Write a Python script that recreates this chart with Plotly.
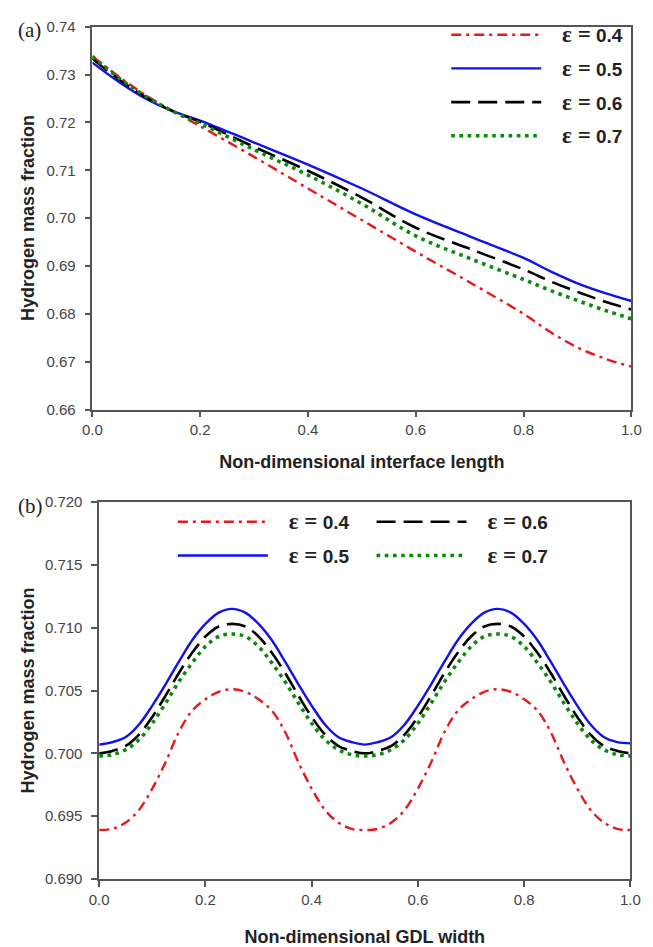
import plotly.graph_objects as go

# ---------------- data: panel (a) ----------------
x_a = [0.0, 0.05, 0.1, 0.15, 0.2, 0.3, 0.4, 0.5, 0.6, 0.7, 0.8, 0.85, 0.9, 0.95, 1.0]
a_eps04 = [0.7338, 0.7295, 0.7256, 0.7223, 0.7192, 0.7128, 0.7062, 0.6996, 0.6930, 0.6866, 0.6800, 0.6762, 0.6730, 0.6707, 0.6690]
a_eps05 = [0.7325, 0.7284, 0.7249, 0.7223, 0.7204, 0.7158, 0.7112, 0.7062, 0.7008, 0.6962, 0.6917, 0.6889, 0.6864, 0.6844, 0.6827]
a_eps06 = [0.7333, 0.7289, 0.7252, 0.7223, 0.7201, 0.7149, 0.7099, 0.7043, 0.6980, 0.6936, 0.6893, 0.6868, 0.6846, 0.6826, 0.6809]
a_eps07 = [0.7338, 0.7292, 0.7254, 0.7223, 0.7198, 0.7143, 0.7090, 0.7030, 0.6963, 0.6916, 0.6872, 0.6849, 0.6828, 0.6808, 0.6790]

# ---------------- data: panel (b) ----------------
x_b = [0.0, 0.025, 0.05, 0.075, 0.1, 0.125, 0.15, 0.175, 0.2, 0.225, 0.25, 0.275, 0.3, 0.325, 0.35,
       0.375, 0.4, 0.425, 0.45, 0.475, 0.5, 0.525, 0.55, 0.575, 0.6, 0.625, 0.65, 0.675, 0.7, 0.725,
       0.75, 0.775, 0.8, 0.825, 0.85, 0.875, 0.9, 0.925, 0.95, 0.975, 1.0]
b_eps04 = [0.6939, 0.6940, 0.6945, 0.6955, 0.6972, 0.6993, 0.7017, 0.7034, 0.7043, 0.7049, 0.7051, 0.7049, 0.7043, 0.7034, 0.7017, 0.6993, 0.6972, 0.6955, 0.6945, 0.6940, 0.6939, 0.6940, 0.6945, 0.6955, 0.6972, 0.6993, 0.7017, 0.7034, 0.7043, 0.7049, 0.7051, 0.7049, 0.7043, 0.7034, 0.7017, 0.6993, 0.6972, 0.6955, 0.6945, 0.6940, 0.6939]
b_eps05 = [0.7007, 0.7009, 0.7013, 0.7023, 0.7038, 0.7055, 0.7073, 0.7090, 0.7103, 0.7112, 0.7115, 0.7112, 0.7103, 0.7090, 0.7073, 0.7055, 0.7038, 0.7023, 0.7013, 0.7009, 0.7007, 0.7009, 0.7013, 0.7023, 0.7038, 0.7055, 0.7073, 0.7090, 0.7103, 0.7112, 0.7115, 0.7112, 0.7103, 0.7090, 0.7073, 0.7055, 0.7038, 0.7023, 0.7013, 0.7009, 0.7008]
b_eps06 = [0.7000, 0.7002, 0.7006, 0.7015, 0.7029, 0.7046, 0.7064, 0.7080, 0.7093, 0.7101, 0.7103, 0.7101, 0.7093, 0.7080, 0.7064, 0.7046, 0.7029, 0.7015, 0.7006, 0.7002, 0.7000, 0.7002, 0.7006, 0.7015, 0.7029, 0.7046, 0.7064, 0.7080, 0.7093, 0.7101, 0.7103, 0.7101, 0.7093, 0.7080, 0.7064, 0.7046, 0.7029, 0.7015, 0.7006, 0.7002, 0.7000]
b_eps07 = [0.6998, 0.6999, 0.7003, 0.7011, 0.7024, 0.7040, 0.7057, 0.7072, 0.7085, 0.7093, 0.7095, 0.7093, 0.7085, 0.7072, 0.7057, 0.7040, 0.7024, 0.7011, 0.7003, 0.6999, 0.6998, 0.6999, 0.7003, 0.7011, 0.7024, 0.7040, 0.7057, 0.7072, 0.7085, 0.7093, 0.7095, 0.7093, 0.7085, 0.7072, 0.7057, 0.7040, 0.7024, 0.7011, 0.7003, 0.6999, 0.6998]

series_names = ["0.4", "0.5", "0.6", "0.7"]
y_ticks_a = [0.66, 0.67, 0.68, 0.69, 0.70, 0.71, 0.72, 0.73, 0.74]
y_ticks_b = [0.690, 0.695, 0.700, 0.705, 0.710, 0.715, 0.720]
x_ticks = [0.0, 0.2, 0.4, 0.6, 0.8, 1.0]
y_title = "Hydrogen mass fraction"

styles = {
    "0.4": dict(color="#e8191b", width=2.4, dash="10px,5px,3px,5px"),
    "0.5": dict(color="#1010f0", width=2.4, dash="solid"),
    "0.6": dict(color="#000000", width=2.6, dash="19px,8px"),
    "0.7": dict(color="#0a8a0a", width=3.6, dash="3.6px,4.6px"),
}

GAP = "\u00a0\u00a0\u00a0"

def label(n):
    return (GAP + "<span style='font-family:Liberation Serif;font-size:23px'><b>ε =</b></span>"
            + "<b> " + n + "</b>")

fig = go.Figure()
a_vals = [a_eps04, a_eps05, a_eps06, a_eps07]
b_vals = [b_eps04, b_eps05, b_eps06, b_eps07]
for n, ys in zip(series_names, a_vals):
    fig.add_trace(go.Scatter(x=x_a, y=ys, mode="lines", line=dict(shape="spline", **styles[n]),
                             name=label(n), legend="legend", legendgroup="a" + n,
                             xaxis="x", yaxis="y"))
for n, ys in zip(series_names, b_vals):
    lg = "legend2" if n in ("0.4", "0.5") else "legend3"
    fig.add_trace(go.Scatter(x=x_b, y=ys, mode="lines", line=dict(shape="spline", **styles[n]),
                             name=label(n), legend=lg, legendgroup="b" + n,
                             xaxis="x2", yaxis="y2"))

W, H = 653, 947
axcol = "#555555"
tickfont = dict(family="Liberation Sans, Arial", size=15, color="#444444")
titlefont = dict(family="Liberation Sans, Arial", size=18, color="#222222")

def xax(domain, anchor, title, standoff):
    return dict(domain=domain, anchor=anchor, range=[0, 1], tickvals=x_ticks, tickformat=".1f",
                showline=True, linecolor=axcol, linewidth=1.5, mirror=True,
                ticks="outside", ticklen=6, tickwidth=1.5, tickcolor=axcol,
                showgrid=False, zeroline=False, tickfont=tickfont,
                title=dict(text="<b>" + title + "</b>", font=titlefont, standoff=standoff))

def yax(domain, anchor, rng, tv, fmt):
    return dict(domain=domain, anchor=anchor, range=rng, tickvals=tv, tickformat=fmt,
                showline=True, linecolor=axcol, linewidth=1.5, mirror=True,
                ticks="outside", ticklen=6, tickwidth=1.5, tickcolor=axcol,
                showgrid=False, zeroline=False, tickfont=tickfont, ticklabelstandoff=6)

legfont = dict(family="Liberation Sans, Arial", size=19, color="#222222")
common_leg = dict(xanchor="left", yanchor="top", bgcolor="rgba(0,0,0,0)", borderwidth=0,
                  font=legfont, itemwidth=90, traceorder="grouped", tracegroupgap=6,
                  orientation="v")

dom_ya = [1 - 408 / H, 1 - 18 / H]
dom_yb = [1 - 886 / H, 1 - 502 / H]

fig.update_layout(
    width=W, height=H, margin=dict(l=0, r=0, t=0, b=0),
    paper_bgcolor="white", plot_bgcolor="white",
    xaxis=xax([85 / W, 641 / W], "y", "Non-dimensional interface length", 18),
    yaxis=yax(dom_ya, "x", [0.66, 0.74], y_ticks_a, ".2f"),
    xaxis2=xax([92 / W, 640 / W], "y2", "Non-dimensional GDL width", 25),
    yaxis2=yax(dom_yb, "x2", [0.690, 0.720], y_ticks_b, ".3f"),
    legend=dict(x=450 / W, y=1 - 7 / H, **common_leg),
    legend2=dict(x=168 / W, y=1 - 503 / H, **common_leg),
    legend3=dict(x=373 / W, y=1 - 503 / H, **common_leg),
    showlegend=True,
)

for dom in (dom_ya, dom_yb):
    fig.add_annotation(text="<b>" + y_title + "</b>", xref="paper", yref="paper",
                       x=18.5 / W, y=(dom[0] + dom[1]) / 2, textangle=-90,
                       xanchor="center", yanchor="middle", showarrow=False, font=titlefont)

panel_font = dict(family="Liberation Serif, Times New Roman", size=21, color="#222222")
fig.add_annotation(text="(a)", xref="paper", yref="paper", x=6 / W, y=1 - 21 / H,
                   xanchor="left", yanchor="middle", showarrow=False, font=panel_font)
fig.add_annotation(text="(b)", xref="paper", yref="paper", x=6 / W, y=1 - 506 / H,
                   xanchor="left", yanchor="middle", showarrow=False, font=panel_font)

fig.write_html("out.html")
